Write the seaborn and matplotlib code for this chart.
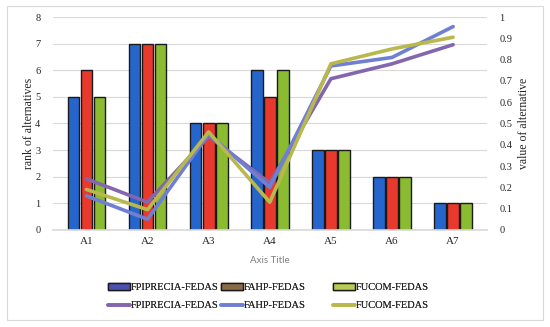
import matplotlib
matplotlib.use("Agg")
import matplotlib.pyplot as plt
import seaborn as sns
import pandas as pd
import numpy as np
from matplotlib.patches import Patch
from matplotlib.lines import Line2D

categories = ["A1", "A2", "A3", "A4", "A5", "A6", "A7"]
series = ["FPIPRECIA-FEDAS", "FAHP-FEDAS", "FUCOM-FEDAS"]
rank_fpiprecia = [5, 7, 4, 6, 3, 2, 1]
rank_fahp = [6, 7, 4, 5, 3, 2, 1]
rank_fucom = [5, 7, 4, 6, 3, 2, 1]
value_fpiprecia = [0.24, 0.13, 0.44, 0.22, 0.71, 0.78, 0.87]
value_fahp = [0.16, 0.05, 0.45, 0.20, 0.77, 0.81, 0.955]
value_fucom = [0.19, 0.095, 0.46, 0.13, 0.78, 0.85, 0.905]

sns.set_theme(style="white")
plt.rcParams['font.family'] = ['Liberation Serif', 'DejaVu Serif']

bar_df = pd.DataFrame({
    "cat": categories * 3,
    "series": [series[0]] * 7 + [series[1]] * 7 + [series[2]] * 7,
    "rank": rank_fpiprecia + rank_fahp + rank_fucom,
})
line_df = pd.DataFrame({
    "cat": categories * 3,
    "series": [series[0]] * 7 + [series[1]] * 7 + [series[2]] * 7,
    "value": value_fpiprecia + value_fahp + value_fucom,
})

bar_colors = ["#2666cc", "#e8392c", "#8bbb30"]
line_colors = ["#8466ae", "#6f7fd4", "#b9b84c"]

fig = plt.figure(figsize=(5.5, 3.27), dpi=100)
ax = fig.add_axes([0.096, 0.297, 0.789, 0.651])

sns.barplot(data=bar_df, x="cat", y="rank", hue="series", palette=bar_colors,
            order=categories, hue_order=series, width=0.64, gap=0.1, saturation=1,
            edgecolor="#1a1a1a", linewidth=1.0, ax=ax, legend=False)
ax.set_ylim(0, 8)
ax.set_yticks(range(0, 9))
ax.yaxis.grid(True, color="#d9d9d9", linewidth=0.8)
ax.set_axisbelow(True)
for s in ax.spines.values():
    s.set_visible(False)
ax.spines["bottom"].set_visible(True)
ax.spines["bottom"].set_color("#d9d9d9")
ax.set_ylabel("rank of alternatives", fontsize=8.5, labelpad=0)
ax.set_xlabel("Axis Title", fontsize=7, color="#808080", family="Lato", labelpad=7)
ax.tick_params(axis="y", labelsize=7.5, length=0, pad=9)
ax.tick_params(axis="x", labelsize=8, length=0, pad=5)
ax.set_xlim(-0.55, 6.55)

ax2 = ax.twinx()
sns.lineplot(data=line_df, x="cat", y="value", hue="series", palette=line_colors,
             hue_order=series, linewidth=2.6, ax=ax2, legend=False, sort=False)
ax2.set_ylim(0, 1)
ax2.set_yticks(np.arange(0, 1.01, 0.1))
ax2.set_yticklabels(["0", "0.1", "0.2", "0.3", "0.4", "0.5", "0.6", "0.7", "0.8", "0.9", "1"])
ax2.set_ylabel("value of alternative", fontsize=8.5, labelpad=4)
ax2.tick_params(axis="y", labelsize=7.5, length=0, pad=9)
for s in ax2.spines.values():
    s.set_visible(False)
ax2.grid(False)

legend_patch_colors = ["#4a4fb0", "#8a6a48", "#b8cc55"]
col_x = [108 / 550, 221 / 550, 333 / 550]
for i in range(3):
    h = [Patch(facecolor=legend_patch_colors[i], edgecolor="#1a1a1a", linewidth=1.0),
         Line2D([0], [0], color=line_colors[i], linewidth=2.6)]
    leg = fig.legend(h, [series[i], series[i]], loc="center left",
                     bbox_to_anchor=(col_x[i], 0.093), frameon=False, fontsize=7.5,
                     handlelength=2.1, handleheight=0.7, handletextpad=0.1,
                     labelspacing=0.85, borderaxespad=0, borderpad=0)
    fig.add_artist(leg)

fig.patches.append(plt.Rectangle((0.012, 0.02), 0.976, 0.962, transform=fig.transFigure,
                                 fill=False, edgecolor="#d9d9d9", linewidth=0.8))

fig.savefig("out.png", dpi=100)
